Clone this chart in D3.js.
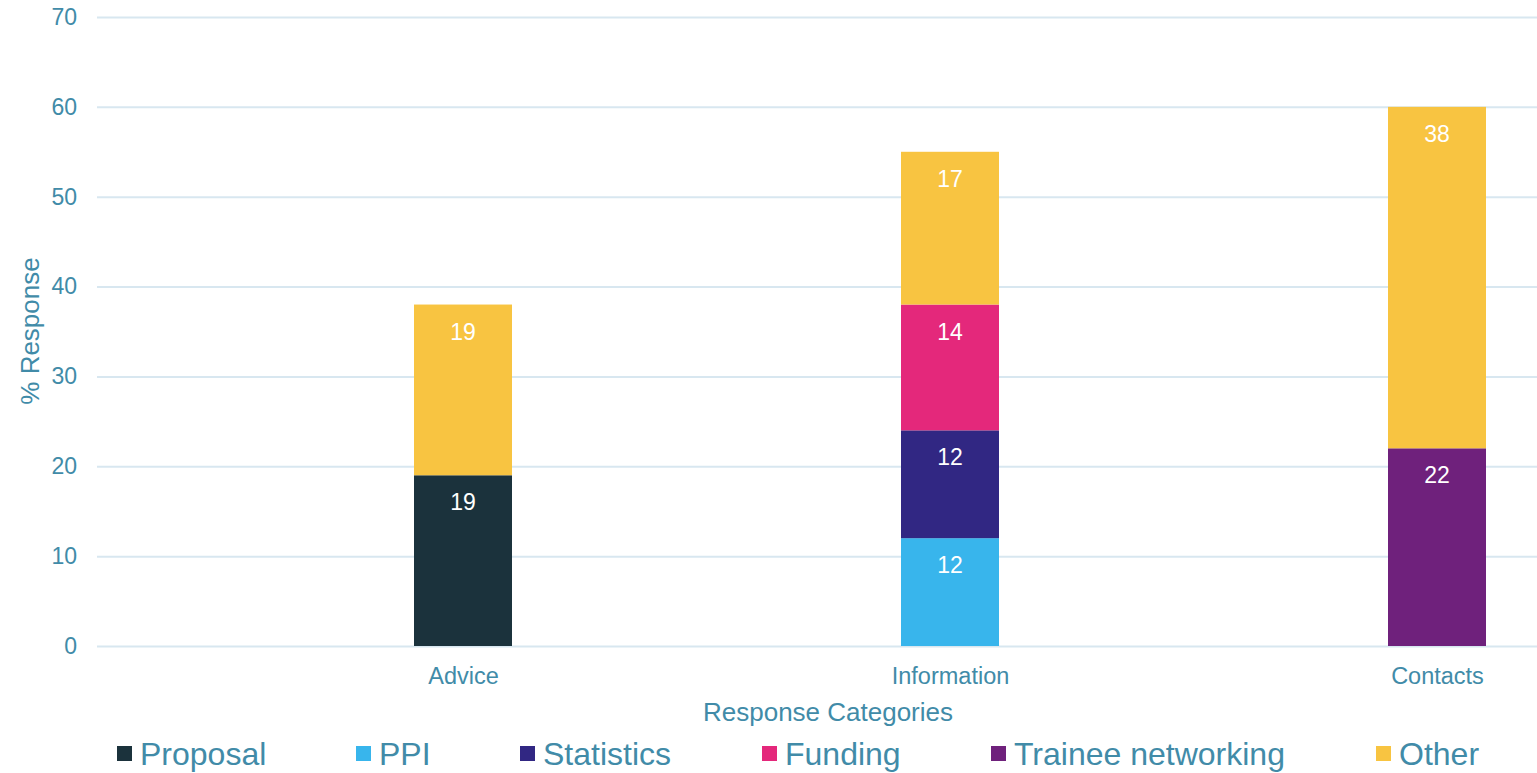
<!DOCTYPE html>
<html>
<head>
<meta charset="utf-8">
<script src="https://cdn.jsdelivr.net/npm/d3@7"></script>
<style>
  html, body { margin: 0; padding: 0; background: #fff; }
  svg { display: block; font-family: "Liberation Sans", Arial, sans-serif; }
</style>
</head>
<body>
<svg id="chart" width="1537" height="773"></svg>
<script>
const categories = ["Advice", "Information", "Contacts"];
const seriesNames = ["Proposal", "PPI", "Statistics", "Funding", "Trainee networking", "Other"];
const proposal = [19, 0, 0];
const ppi = [0, 12, 0];
const statistics = [0, 12, 0];
const funding = [0, 14, 0];
const traineeNetworking = [0, 0, 22];
const other = [19, 17, 38];
const yTicks = [0, 10, 20, 30, 40, 50, 60, 70];
const colors = ["#1b323c", "#38b5ec", "#312783", "#e4287b", "#6f217c", "#f8c441"];

const seriesValues = [proposal, ppi, statistics, funding, traineeNetworking, other];
const rows = categories.map((c, i) => {
  const r = { category: c };
  seriesNames.forEach((s, j) => r[s] = seriesValues[j][i]);
  return r;
});

const textColor = "#418ba8";
const gridColor = "#d8e7f0";
const svg = d3.select("#chart");

const x = d3.scalePoint().domain(categories).range([463, 1437]);
const barW = 98;
const y = d3.scaleLinear().domain([0, 70]).range([646, 17]);

// gridlines
const yAxis = d3.axisLeft(y).tickValues(yTicks).tickSize(-(1537 - 97)).tickPadding(20);
const gy = svg.append("g").attr("transform", "translate(97,0)").call(yAxis);
gy.select(".domain").remove();
gy.selectAll(".tick line").attr("stroke", gridColor).attr("stroke-width", 2);
gy.selectAll(".tick text").attr("fill", textColor).attr("font-size", 23).attr("font-family", "Liberation Sans, Arial, sans-serif");

// stacked bars
const stack = d3.stack().keys(seriesNames);
const stacked = stack(rows);
const layers = svg.append("g").selectAll("g").data(stacked).join("g")
  .attr("fill", (d, i) => colors[i]);
layers.selectAll("rect").data(d => d.filter(p => p[1] - p[0] > 0)).join("rect")
  .attr("x", d => x(d.data.category) - barW / 2)
  .attr("width", barW)
  .attr("y", d => y(d[1]))
  .attr("height", d => y(d[0]) - y(d[1]));
layers.selectAll("text").data(d => d.filter(p => p[1] - p[0] > 0)).join("text")
  .attr("x", d => x(d.data.category))
  .attr("y", d => y(d[1]) + 35)
  .attr("text-anchor", "middle")
  .attr("fill", "#ffffff")
  .attr("font-size", 23)
  .text(d => d[1] - d[0]);

// x axis labels
const xAxis = d3.axisBottom(x).tickSize(0).tickPadding(21);
const gx = svg.append("g").attr("transform", "translate(0,646)").call(xAxis);
gx.select(".domain").remove();
gx.selectAll(".tick text").attr("fill", textColor).attr("font-size", 23.5).attr("font-family", "Liberation Sans, Arial, sans-serif");

// axis titles
svg.append("text").attr("x", 828).attr("y", 721).attr("text-anchor", "middle")
  .attr("fill", textColor).attr("font-size", 26).text("Response Categories");
svg.append("text").attr("transform", "translate(39,331) rotate(-90)").attr("text-anchor", "middle")
  .attr("fill", textColor).attr("font-size", 26).text("% Response");

// legend
const legendX = [117, 356, 520, 762, 991, 1376];
const lg = svg.append("g").selectAll("g").data(seriesNames).join("g")
  .attr("transform", (d, i) => `translate(${legendX[i]},0)`);
lg.append("rect").attr("x", 0).attr("y", 746).attr("width", 15).attr("height", 15)
  .attr("fill", (d, i) => colors[i]);
lg.append("text").attr("x", 23).attr("y", 765).attr("fill", textColor).attr("font-size", 32).text(d => d);
</script>
</body>
</html>
